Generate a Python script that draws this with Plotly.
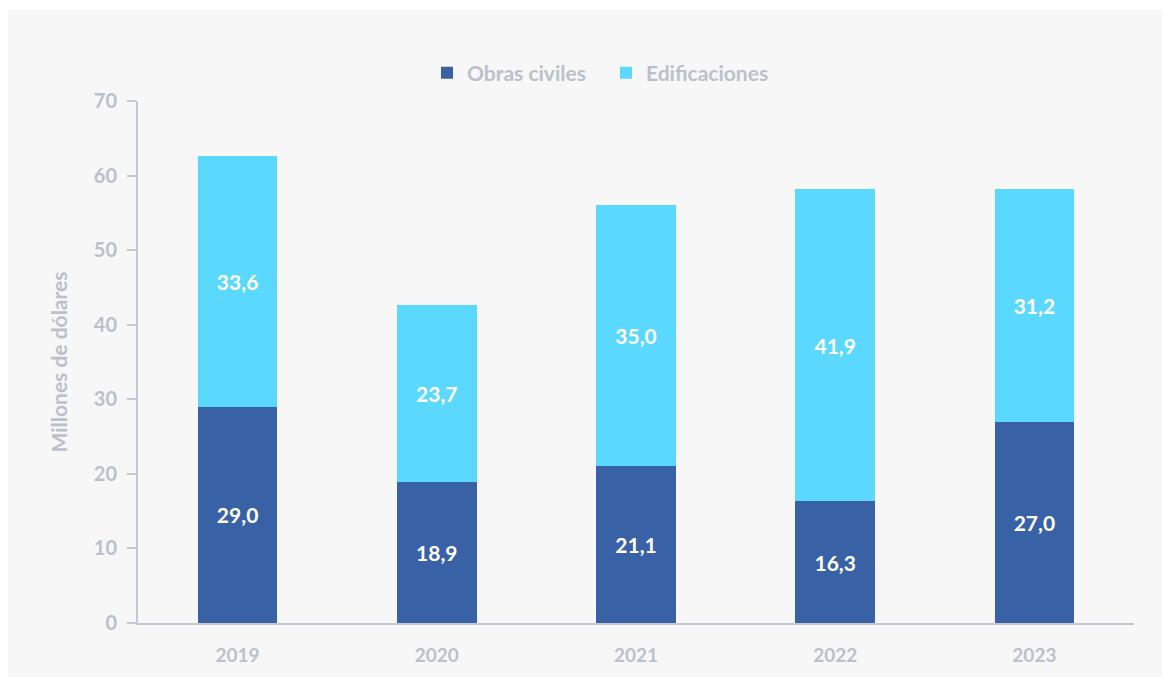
import plotly.graph_objects as go

years = ["2019", "2020", "2021", "2022", "2023"]
obras_civiles = [29.0, 18.9, 21.1, 16.3, 27.0]
edificaciones = [33.6, 23.7, 35.0, 41.9, 31.2]
y_ticks = [0, 10, 20, 30, 40, 50, 60, 70]

FONT = "Lato"
GREY = "#b9c1cc"
DARK = "#3961a6"
LIGHT = "#5ad8fd"

def fmt(v):
    return f"{v:.1f}".replace(".", ",")

fig = go.Figure()
fig.add_trace(go.Bar(
    x=years, y=obras_civiles, name="Obras civiles",
    marker=dict(color=DARK, line=dict(width=0)),
    text=[fmt(v) for v in obras_civiles], textposition="inside",
    insidetextanchor="middle",
    textfont=dict(color="white", size=21, family=FONT, weight="bold"),
))
fig.add_trace(go.Bar(
    x=years, y=edificaciones, name="Edificaciones",
    marker=dict(color=LIGHT, line=dict(width=0)),
    text=[fmt(v) for v in edificaciones], textposition="inside",
    insidetextanchor="middle",
    textfont=dict(color="white", size=21, family=FONT, weight="bold"),
))

OFF = 8
L, R, T, B = 138 - OFF, 36, 101 - OFF, 54
W, H = 1170 - OFF, 677 - OFF
pw, ph = W - L - R, H - T - B

fig.update_layout(
    width=W, height=H,
    barmode="stack", bargap=0.6,
    margin=dict(l=L, r=R, t=T, b=B),
    paper_bgcolor="white", plot_bgcolor="rgba(0,0,0,0)",
    font=dict(family=FONT, color=GREY),
    showlegend=True,
    legend=dict(orientation="h", x=(427 - 138) / pw, xanchor="left",
                y=1.0 + (T - (73 - OFF)) / ph,
                yanchor="middle", font=dict(size=21, color=GREY, family=FONT, weight="bold"),
                traceorder="normal", itemwidth=30, entrywidth=134, entrywidthmode="pixels",
                bgcolor="rgba(0,0,0,0)"),
    xaxis=dict(showgrid=False, showline=True, linecolor="#c3c9d3", linewidth=2,
               ticks="", tickfont=dict(size=19, color=GREY, family=FONT, weight="bold"),
               ticklabelstandoff=14),
    yaxis=dict(range=[0, 70], tickvals=y_ticks, showgrid=False, zeroline=False,
               showline=True, linecolor="#c3c9d3", linewidth=2,
               ticks="outside", ticklen=9, tickcolor="#c3c9d3", tickwidth=2,
               tickfont=dict(size=20, color=GREY, family=FONT, weight="bold"),
               ticklabelstandoff=6,
               title=dict(text="Millones de dólares", standoff=20,
                          font=dict(size=21, color=GREY, family=FONT, weight="bold"))),
    shapes=[dict(type="rect", xref="paper", yref="paper", layer="below",
                 x0=(6 - 138) / pw, x1=1.2, y0=-0.3, y1=1.0 + (101 - 10) / ph,
                 fillcolor="#f7f7f7", line=dict(width=0))],
)

fig.write_html("out.html")
